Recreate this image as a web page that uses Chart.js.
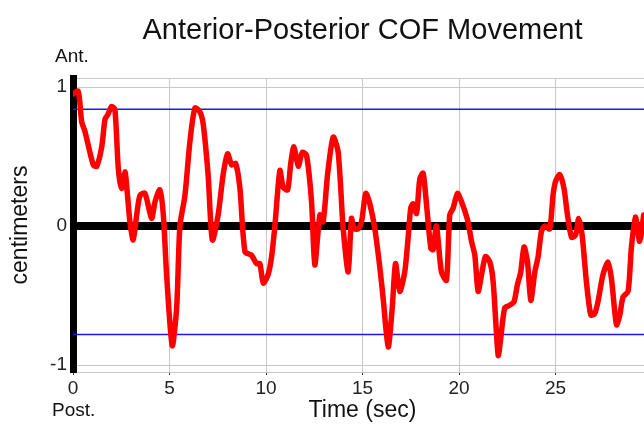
<!DOCTYPE html>
<html lang="en">
<head>
  <meta charset="UTF-8">
  <title>Anterior-Posterior COF Movement</title>
  <script src="https://cdn.jsdelivr.net/npm/chart.js"></script>
  <style>
    body {
      margin: 0;
      background: #fff;
      overflow: hidden;
    }
    .wrap {
      width: 724px;
      height: 424px;
    }
  </style>
</head>
<body>
  <div class="wrap">
    <canvas id="cofChart" width="724" height="424"></canvas>
  </div>

  <script>
    // time in seconds, COF position in cm
    const times = [
      0.0, 0.27, 0.45, 0.62, 1.05, 1.23, 1.49, 1.66, 1.8, 2.0, 2.17, 2.35, 2.52, 2.69, 2.78, 2.95,
      3.12, 3.3, 3.47, 3.73, 4.07, 4.25, 4.5, 4.68, 4.85, 5.14, 5.37, 5.54, 5.8, 6.06, 6.32, 6.58,
      6.75, 7.0, 7.22, 7.52, 7.78, 8.01, 8.22, 8.43, 8.65, 8.91, 9.25, 9.51, 9.68, 9.86, 10.11, 10.29,
      10.46, 10.72, 10.89, 11.12, 11.29, 11.45, 11.67, 11.88, 12.1, 12.36, 12.53, 12.79, 12.96, 13.19,
      13.48, 13.74, 14.0, 14.26, 14.43, 14.57, 14.78, 14.95, 15.17, 15.38, 15.64, 15.9, 16.07, 16.33,
      16.54, 16.71, 16.93, 17.19, 17.36, 17.5, 17.62, 17.8, 17.97, 18.14, 18.32, 18.54, 18.66, 18.83,
      19.09, 19.35, 19.52, 19.7, 19.92, 20.13, 20.44, 20.65, 20.82, 20.99, 21.17, 21.37, 21.6, 21.77,
      22.03, 22.16, 22.37, 22.63, 22.85, 23.03, 23.2, 23.37, 23.55, 23.72, 23.93, 24.1, 24.27, 24.44,
      24.7, 24.87, 25.0, 25.22, 25.44, 25.62, 25.83, 26.04, 26.2, 26.38, 26.6, 26.83, 27.03, 27.2,
      27.46, 27.72, 27.9, 28.16, 28.33, 28.5, 28.76, 28.93, 29.14, 29.36, 29.57
    ];
    const cof = [
      0.95, 0.97, 0.75, 0.68, 0.44, 0.43, 0.57, 0.77, 0.80, 0.86, 0.84, 0.41, 0.27, 0.39, 0.29, 0.03,
      -0.10, 0.08, 0.22, 0.235, 0.055, 0.175, 0.26, 0.08, -0.35, -0.86, -0.59, 0.0, 0.22, 0.61, 0.85, 0.82,
      0.73, 0.37, -0.10, 0.08, 0.37, 0.52, 0.44, 0.45, 0.27, -0.185, -0.21, -0.27, -0.27, -0.41, -0.35, -0.22,
      0.0, 0.40, 0.28, 0.26, 0.46, 0.57, 0.43, 0.53, 0.51, 0.175, -0.28, 0.08, 0.03, 0.37,
      0.64, 0.53, -0.02, -0.33, 0.055, -0.02, -0.02, 0.03, 0.235, 0.16, -0.02, -0.30, -0.52, -0.87,
      -0.59, -0.27, -0.47, -0.33, -0.09, 0.13, 0.16, 0.09, 0.34, 0.38, 0.15, -0.16, -0.17, 0.0,
      -0.33, -0.39, 0.08, 0.13, 0.235, 0.175, 0.045, -0.11, -0.21, -0.47, -0.35, -0.22, -0.26, -0.40,
      -0.93, -0.81, -0.59, -0.57, -0.545, -0.42, -0.33, -0.15, -0.26, -0.535, -0.33, -0.22, -0.04, 0.0,
      -0.02, 0.22, 0.32, 0.37, 0.27, 0.08, -0.08, -0.065, 0.055, -0.065, -0.40, -0.64, -0.63, -0.545,
      -0.35, -0.26, -0.38, -0.71, -0.64, -0.51, -0.47, -0.16, 0.065, -0.11, 0.08
    ];

    // blue reference limits (cm)
    const upperLimit = 0.84;
    const lowerLimit = -0.78;

    const xTicks = [0, 5, 10, 15, 20, 25];
    const yTicks = [-1, 0, 1];
    const xMin = 0, xMax = 30;
    const yMin = -1.05, yMax = 1.065;

    const fontFamily = '"Liberation Sans", Arial, Helvetica, sans-serif';
    Chart.defaults.font.family = fontFamily;

    const trace = times.map((t, i) => ({ x: t, y: cof[i] }));
    const limitLine = v => [{ x: xMin, y: v }, { x: xMax, y: v }];

    // title centred over the plot, plus Ant. / Post. beside the y axis
    const extraText = {
      id: 'extraText',
      afterDraw(chart) {
        const ctx = chart.ctx;
        const area = chart.chartArea;
        ctx.save();
        ctx.fillStyle = '#111';
        ctx.textBaseline = 'alphabetic';

        ctx.font = '29px ' + fontFamily;
        ctx.textAlign = 'center';
        ctx.fillText('Anterior-Posterior COF Movement', (area.left + area.right) / 2, 39);

        ctx.font = '19px ' + fontFamily;
        ctx.textAlign = 'left';
        ctx.fillText('Ant.', area.left - 18, 62);
        ctx.fillText('Post.', area.left - 21, 416);
        ctx.restore();
      }
    };

    new Chart(document.getElementById('cofChart'), {
      type: 'line',
      data: {
        datasets: [
          {
            data: trace,
            borderColor: '#ff0000',
            borderWidth: 5.5,
            pointRadius: 0,
            tension: 0.25,
            borderJoinStyle: 'round',
            borderCapStyle: 'round',
            order: 0
          },
          {
            data: limitLine(upperLimit),
            borderColor: '#1c1cdc',
            borderWidth: 1.5,
            pointRadius: 0,
            order: 1
          },
          {
            data: limitLine(lowerLimit),
            borderColor: '#1c1cdc',
            borderWidth: 1.5,
            pointRadius: 0,
            order: 1
          }
        ]
      },
      options: {
        responsive: false,
        animation: false,
        layout: { padding: { left: 0, right: 72, top: 78, bottom: 0 } },
        plugins: {
          legend: { display: false },
          tooltip: { enabled: false },
          title: { display: false }
        },
        scales: {
          x: {
            type: 'linear',
            min: xMin,
            max: xMax,
            afterFit(scale) { scale.height = 52; },
            afterBuildTicks(scale) {
              scale.ticks = xTicks.concat([xMax]).map(v => ({ value: v }));
            },
            ticks: {
              color: '#222',
              font: { size: 19 },
              padding: 2,
              maxRotation: 0,
              callback: v => (xTicks.includes(v) ? String(v) : '')
            },
            grid: {
              color: '#c8c8c8',
              lineWidth: 1,
              tickLength: 3,
              tickColor: '#333'
            },
            border: { color: '#c8c8c8', width: 1 },
            title: {
              display: true,
              text: 'Time (sec)',
              color: '#111',
              font: { size: 23 },
              padding: { top: 0, bottom: 0 }
            }
          },
          y: {
            type: 'linear',
            min: yMin,
            max: yMax,
            afterFit(scale) { scale.width = 73; },
            afterBuildTicks(scale) {
              scale.ticks = [yMin].concat(yTicks, [yMax]).map(v => ({ value: v }));
            },
            ticks: {
              color: '#222',
              font: { size: 19 },
              padding: 6,
              callback: v => (yTicks.includes(v) ? String(v) : '')
            },
            grid: {
              drawTicks: false,
              color: c => (c.tick && c.tick.value === 0 ? '#000' : '#c8c8c8'),
              lineWidth: c => (c.tick && c.tick.value === 0 ? 8 : 1)
            },
            border: { color: '#000', width: 7 },
            title: {
              display: true,
              text: 'centimeters',
              color: '#111',
              font: { size: 23 },
              padding: { top: 7, bottom: 0 }
            }
          }
        }
      },
      plugins: [extraText]
    });
  </script>
</body>
</html>
